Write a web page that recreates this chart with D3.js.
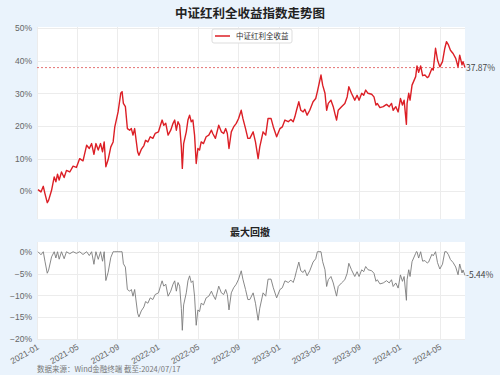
<!DOCTYPE html>
<html>
<head>
<meta charset="utf-8">
<script src="https://cdn.jsdelivr.net/npm/d3@7/dist/d3.min.js"></script>
<style>
  html, body { margin: 0; padding: 0; background: #eaf3fc; }
  svg { display: block; font-family: "Noto Sans CJK SC", "Noto Sans", sans-serif; }
</style>
</head>
<body>
<div id="chart"></div>
<script>
// 中证红利全收益 累计收益 (%)
const dates = [
  '2021-01-04','2021-01-13','2021-01-20','2021-01-25','2021-02-01','2021-02-05','2021-02-14','2021-02-22','2021-02-27',
  '2021-03-04','2021-03-09','2021-03-16','2021-03-24','2021-03-31','2021-04-10','2021-04-20','2021-04-30','2021-05-10',
  '2021-05-20','2021-05-31','2021-06-08','2021-06-15','2021-06-22','2021-06-28','2021-07-05','2021-07-12','2021-07-18',
  '2021-07-23','2021-07-28','2021-08-04','2021-08-12','2021-08-19','2021-08-24','2021-09-03','2021-09-11','2021-09-15',
  '2021-09-19','2021-09-25','2021-10-01','2021-10-08','2021-10-13','2021-10-18','2021-10-23','2021-11-01','2021-11-05',
  '2021-11-12','2021-11-20','2021-11-25','2021-12-02','2021-12-09','2021-12-17','2021-12-24','2022-01-03','2022-01-09',
  '2022-01-14','2022-01-19','2022-01-25','2022-02-01','2022-02-09','2022-02-16','2022-02-21','2022-02-26','2022-03-03',
  '2022-03-08','2022-03-13','2022-03-16','2022-03-20','2022-03-28','2022-04-02','2022-04-07','2022-04-12','2022-04-17',
  '2022-04-22','2022-04-27','2022-05-02','2022-05-07','2022-05-12','2022-05-19','2022-05-27','2022-06-04','2022-06-12',
  '2022-06-16','2022-06-24','2022-07-04','2022-07-12','2022-07-19','2022-07-25','2022-07-30','2022-08-04','2022-08-11',
  '2022-08-18','2022-08-26','2022-09-02','2022-09-10','2022-09-15','2022-09-23','2022-09-30','2022-10-06','2022-10-16',
  '2022-10-23','2022-10-31','2022-11-05','2022-11-15','2022-11-23','2022-11-30','2022-12-09','2022-12-16','2022-12-26',
  '2023-01-05','2023-01-12','2023-01-20','2023-01-30','2023-02-07','2023-02-14','2023-02-19','2023-02-24','2023-03-03',
  '2023-03-09','2023-03-16','2023-03-21','2023-03-28','2023-04-05','2023-04-15','2023-04-23','2023-04-28','2023-05-09',
  '2023-05-14','2023-05-21','2023-05-26','2023-05-31','2023-06-08','2023-06-15','2023-06-20','2023-06-25','2023-06-30',
  '2023-07-10','2023-07-20','2023-07-27','2023-08-01','2023-08-09','2023-08-19','2023-08-26','2023-09-01','2023-09-09',
  '2023-09-15','2023-09-21','2023-09-28','2023-10-09','2023-10-16','2023-10-22','2023-10-26','2023-11-03','2023-11-13',
  '2023-11-23','2023-12-01','2023-12-08','2023-12-13','2023-12-21','2023-12-28','2024-01-04','2024-01-10','2024-01-15',
  '2024-01-22','2024-01-24','2024-01-29','2024-02-02','2024-02-08','2024-02-19','2024-02-21','2024-02-23','2024-02-28',
  '2024-03-05','2024-03-11','2024-03-18','2024-03-25','2024-03-29','2024-04-08','2024-04-12','2024-04-19','2024-04-25',
  '2024-05-02','2024-05-10','2024-05-17','2024-05-22','2024-05-28','2024-06-03','2024-06-11','2024-06-19','2024-06-26',
  '2024-07-01','2024-07-08','2024-07-11','2024-07-17'
]
const values = [
  0.5, -0.2, 1.5, -0.7, -3.5, -2.8, 0.3, 4.4, 2.9,
  5.2, 3.4, 5.9, 4.2, 6.4, 5.9, 7.7, 7.3, 10.0,
  9.3, 14.1, 13.1, 14.6, 11.3, 14.6, 12.6, 14.6, 12.1,
  15.1, 7.5, 9.7, 13.6, 15.1, 19.7, 24.3, 30.0, 30.5,
  26.9, 25.9, 19.2, 18.7, 19.2, 17.2, 19.2, 12.1, 11.0,
  12.8, 14.0, 15.6, 15.1, 16.7, 16.2, 17.7, 18.2, 20.2,
  21.8, 20.2, 20.8, 17.2, 18.7, 20.8, 21.8, 18.7, 21.3,
  20.2, 13.6, 7.0, 14.6, 18.2, 21.8, 23.3, 21.3, 21.8,
  17.2, 8.5, 13.1, 12.6, 15.1, 14.6, 16.7, 17.2, 18.7,
  17.7, 16.2, 20.2, 18.2, 17.7, 19.2, 17.7, 13.1, 18.2,
  19.7, 20.8, 22.3, 24.8, 22.3, 19.2, 16.2, 16.2, 18.2,
  15.1, 10.0, 13.6, 18.2, 17.2, 22.3, 22.3, 19.7, 16.7,
  19.2, 19.7, 21.8, 21.3, 22.0, 21.3, 22.8, 24.8, 27.4,
  24.8, 24.3, 25.1, 23.3, 24.8, 27.4, 28.4, 30.5, 35.6,
  32.5, 30.0, 24.8, 26.9, 27.9, 25.9, 23.8, 21.8, 24.8,
  25.9, 26.9, 28.9, 32.0, 30.0, 27.9, 29.4, 27.9, 30.0,
  29.4, 31.0, 30.0, 29.7, 28.9, 26.4, 26.9, 25.6, 25.9,
  26.6, 25.9, 26.9, 24.8, 25.9, 24.3, 28.4, 26.4, 27.9,
  20.5, 26.9, 30.0, 27.9, 32.5, 35.1, 36.8, 38.4, 36.4,
  38.4, 35.4, 35.6, 34.8, 35.1, 37.6, 37.1, 43.8, 40.2,
  38.1, 39.7, 43.8, 45.8, 44.8, 43.2, 42.2, 40.7, 38.1,
  41.7, 38.7, 39.7, 37.87
]
const mainTicks = [0, 0.1, 0.2, 0.3, 0.4, 0.5]
const ddTicks = [0, -0.05, -0.1, -0.15, -0.2]
const lastLabel = '37.87%'
const ddLabel = '-5.44%'

const width = 500, height = 375
const margin = {left: 37, right: 35}
const main = {top: 28, bottom: 219}
const dd = {top: 243, bottom: 339}

const parse = d3.timeParse('%Y-%m-%d')
const data = dates.map((d, i) => ({date: parse(d), v: values[i] / 100}))
// 最大回撤 from the running peak of the same series
let peak = -Infinity
data.forEach(d => {
  peak = Math.max(peak, 1 + d.v)
  d.dd = (1 + d.v) / peak - 1
})

const x = d3.scaleTime()
  .domain([parse('2021-01-01'), parse('2024-07-17')])
  .range([margin.left, width - margin.right])
const yMain = d3.scaleLinear().domain([-0.085, 0.5]).range([main.bottom, main.top])
const yDD = d3.scaleLinear().domain([-0.2, 0.02]).range([dd.bottom, dd.top])
const monthTicks = d3.timeMonth.every(4).range(parse('2021-01-01'), parse('2024-07-18'))
const pct = d3.format('.0%')

const svg = d3.select('#chart').append('svg').attr('width', width).attr('height', height)

svg.append('rect').attr('width', width).attr('height', height).attr('fill', '#eaf3fc')

function panel(y, ticks) {
  const g = svg.append('g')
  g.append('rect')
    .attr('x', x.range()[0]).attr('y', y.range()[1] - 1)
    .attr('width', x.range()[1] - x.range()[0])
    .attr('height', y.range()[0] - y.range()[1] + 1)
    .attr('fill', '#fff')
  g.selectAll('.hgrid').data(ticks).enter().append('line')
    .attr('x1', x.range()[0]).attr('x2', x.range()[1])
    .attr('y1', d => Math.round(y(d)) + 0.5).attr('y2', d => Math.round(y(d)) + 0.5)
    .attr('stroke', '#ececec')
  g.selectAll('.vgrid').data(monthTicks).enter().append('line')
    .attr('x1', d => Math.round(x(d)) + 0.5).attr('x2', d => Math.round(x(d)) + 0.5)
    .attr('y1', y.range()[1] - 1).attr('y2', y.range()[0])
    .attr('stroke', '#ececec')
  const axis = g.append('g')
    .attr('transform', `translate(${x.range()[0] - 5},0)`)
    .call(d3.axisLeft(y).tickValues(ticks).tickFormat(pct).tickSize(0).tickPadding(0))
  axis.select('.domain').remove()
  axis.selectAll('text').attr('fill', '#666').style('font-size', '8.5px')
  return g
}

// 主图
svg.append('text')
  .attr('x', width / 2).attr('y', 18)
  .attr('text-anchor', 'middle')
  .attr('font-size', 12.5).attr('font-weight', 'bold').attr('fill', '#222')
  .text('中证红利全收益指数走势图')

const gMain = panel(yMain, mainTicks)

const last = data[data.length - 1]
gMain.append('line')
  .attr('x1', x.range()[0]).attr('x2', x.range()[1])
  .attr('y1', yMain(last.v)).attr('y2', yMain(last.v))
  .attr('stroke', '#e57373').attr('stroke-dasharray', '2,2').attr('stroke-width', 1)

gMain.append('path').datum(data)
  .attr('fill', 'none').attr('stroke', '#dc1f26').attr('stroke-width', 1.4)
  .attr('stroke-linejoin', 'round')
  .attr('d', d3.line().x(d => x(d.date)).y(d => yMain(d.v)))

gMain.append('text')
  .attr('x', x.range()[1] + 1).attr('y', yMain(last.v) + 3)
  .attr('font-size', 8.5).attr('fill', '#444')
  .text(lastLabel)

// 图例
const legend = svg.append('g').attr('transform', 'translate(212,29)')
legend.append('rect').attr('width', 80).attr('height', 14).attr('rx', 2)
  .attr('fill', '#fff').attr('stroke', '#ddd')
legend.append('line').attr('x1', 3).attr('x2', 18).attr('y1', 7).attr('y2', 7)
  .attr('stroke', '#dc1f26').attr('stroke-width', 1.5)
legend.append('text').attr('x', 24).attr('y', 10).attr('font-size', 7.5).attr('fill', '#333')
  .text('中证红利全收益')

// 最大回撤
svg.append('text')
  .attr('x', width / 2).attr('y', 236)
  .attr('text-anchor', 'middle')
  .attr('font-size', 10).attr('font-weight', 'bold').attr('fill', '#222')
  .text('最大回撤')

const gDD = panel(yDD, ddTicks)

gDD.append('path').datum(data)
  .attr('fill', 'none').attr('stroke', '#7a7a7a').attr('stroke-width', 0.9)
  .attr('stroke-linejoin', 'round')
  .attr('d', d3.line().x(d => x(d.date)).y(d => yDD(d.dd)))

gDD.append('text')
  .attr('x', x.range()[1] + 1).attr('y', yDD(last.dd) + 3)
  .attr('font-size', 8.5).attr('fill', '#444')
  .text(ddLabel)

// x 轴
const xAxis = svg.append('g')
  .attr('transform', `translate(0,${dd.bottom + 6})`)
  .call(d3.axisBottom(x).tickValues(monthTicks).tickFormat(d3.timeFormat('%Y-%m')).tickSize(0).tickPadding(0))
xAxis.select('.domain').remove()
xAxis.selectAll('text')
  .attr('fill', '#666').style('font-size', '8.5px')
  .attr('text-anchor', 'end').attr('dy', '0.5em')
  .attr('transform', 'rotate(-30)')

svg.append('text')
  .attr('x', 37).attr('y', 372)
  .attr('font-size', 7.5).attr('fill', '#777')
  .text('数据来源：Wind金融终端 截至:2024/07/17')
</script>
</body>
</html>
